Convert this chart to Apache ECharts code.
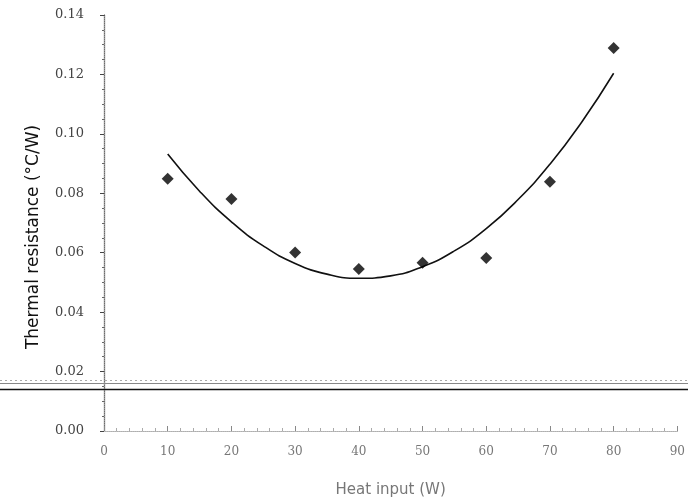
<!DOCTYPE html>
<html>
<head>
<meta charset="utf-8">
<script src="https://cdn.jsdelivr.net/npm/echarts@6/dist/echarts.min.js"></script>
<style>html,body{margin:0;padding:0;background:#fff;}#c{width:688px;height:504px;}</style>
</head>
<body>
<div id="c"></div>
<script>
// Measured data points (Heat input W, Thermal resistance °C/W)
const heatInput = [10, 20, 30, 40, 50, 60, 70, 80];
const resistance = [0.0849, 0.0781, 0.0601, 0.0545, 0.0566, 0.0582, 0.0839, 0.1289];
// Trend curve
const trendX = [10, 15, 20, 25, 30, 35, 40, 45, 50, 55, 60, 65, 70, 75, 80];
const trendY = [0.0932, 0.0807, 0.0704, 0.0623, 0.0564, 0.0528, 0.0514, 0.0522, 0.0553, 0.0606, 0.0681, 0.0779, 0.0898, 0.1040, 0.1204];
// Scan artifact horizontal lines (y values)
const scanLineValues = [0.0170, 0.0162, 0.0141];
const xTitle = 'Heat input (W)';
const yTitle = 'Thermal resistance (°C/W)';

const chart = echarts.init(document.getElementById('c'), null, {renderer: 'canvas'});
const option = {
  backgroundColor: '#fff',
  animation: false,
  grid: {left: 104, right: 8, top: 15, bottom: 73},
  xAxis: [{
    type: 'value', min: 0, max: 90, interval: 10,
    name: xTitle, nameLocation: 'middle', nameGap: 52,
    nameTextStyle: {fontFamily: 'DejaVu Sans', fontSize: 15, color: '#777'},
    axisLine: {lineStyle: {color: '#999', width: 1}},
    axisTick: {inside: true, length: 5, lineStyle: {color: '#888'}},
    minorTick: {show: true, splitNumber: 5, length: 3, lineStyle: {color: '#aaa'}},
    axisLabel: {fontFamily: 'DejaVu Serif', fontSize: 12, color: '#777', margin: 15},
    splitLine: {show: false}
  }, {
    type: 'value', min: 0, max: 90, position: 'top',
    axisLine: {show: true, lineStyle: {color: '#bbb', type: 'dotted'}},
    axisTick: {show: false}, axisLabel: {show: false}, splitLine: {show: false}
  }],
  yAxis: [{
    type: 'value', min: 0, max: 0.14, interval: 0.02,
    name: yTitle, nameLocation: 'middle', nameGap: 62,
    nameTextStyle: {fontFamily: 'DejaVu Sans', fontSize: 17, color: '#111', padding: [0, 0, 0, -28]},
    axisLine: {show: true, lineStyle: {color: '#222', width: 1.2}},
    axisTick: {show: true, length: 4, lineStyle: {color: '#444'}},
    minorTick: {show: true, splitNumber: 4, length: 2, lineStyle: {color: '#666'}},
    axisLabel: {fontFamily: 'DejaVu Serif', fontSize: 13, color: '#444', margin: 20, formatter: v => v.toFixed(2)},
    splitLine: {show: false}
  }, {
    type: 'value', min: 0, max: 0.14, position: 'right',
    axisLine: {show: true, lineStyle: {color: '#999', type: 'dotted'}},
    axisTick: {show: false}, axisLabel: {show: false}, splitLine: {show: false}
  }],
  series: [{
    type: 'line',
    data: trendX.map((x, i) => [x, trendY[i]]),
    smooth: true,
    showSymbol: false,
    lineStyle: {color: '#111', width: 1.6},
    z: 2
  }, {
    type: 'scatter',
    data: heatInput.map((x, i) => [x, resistance[i]]),
    symbol: 'diamond',
    symbolSize: 12,
    itemStyle: {color: '#000'},
    z: 3
  }]
};
chart.setOption(option);

// Full-width scan lines positioned from the y axis scale
const W = chart.getWidth();
const styles = [
  {stroke: '#aaa', lineWidth: 1, lineDash: [2, 3]},
  {stroke: '#888', lineWidth: 1},
  {stroke: '#111', lineWidth: 1.5}
];
chart.setOption({
  graphic: scanLineValues.map((v, i) => {
    const y = Math.round(chart.convertToPixel({yAxisIndex: 0}, v)) + 0.5;
    return {type: 'line', shape: {x1: 0, y1: y, x2: W, y2: y}, style: styles[i], z: 1, silent: true};
  })
});
</script>
</body>
</html>
